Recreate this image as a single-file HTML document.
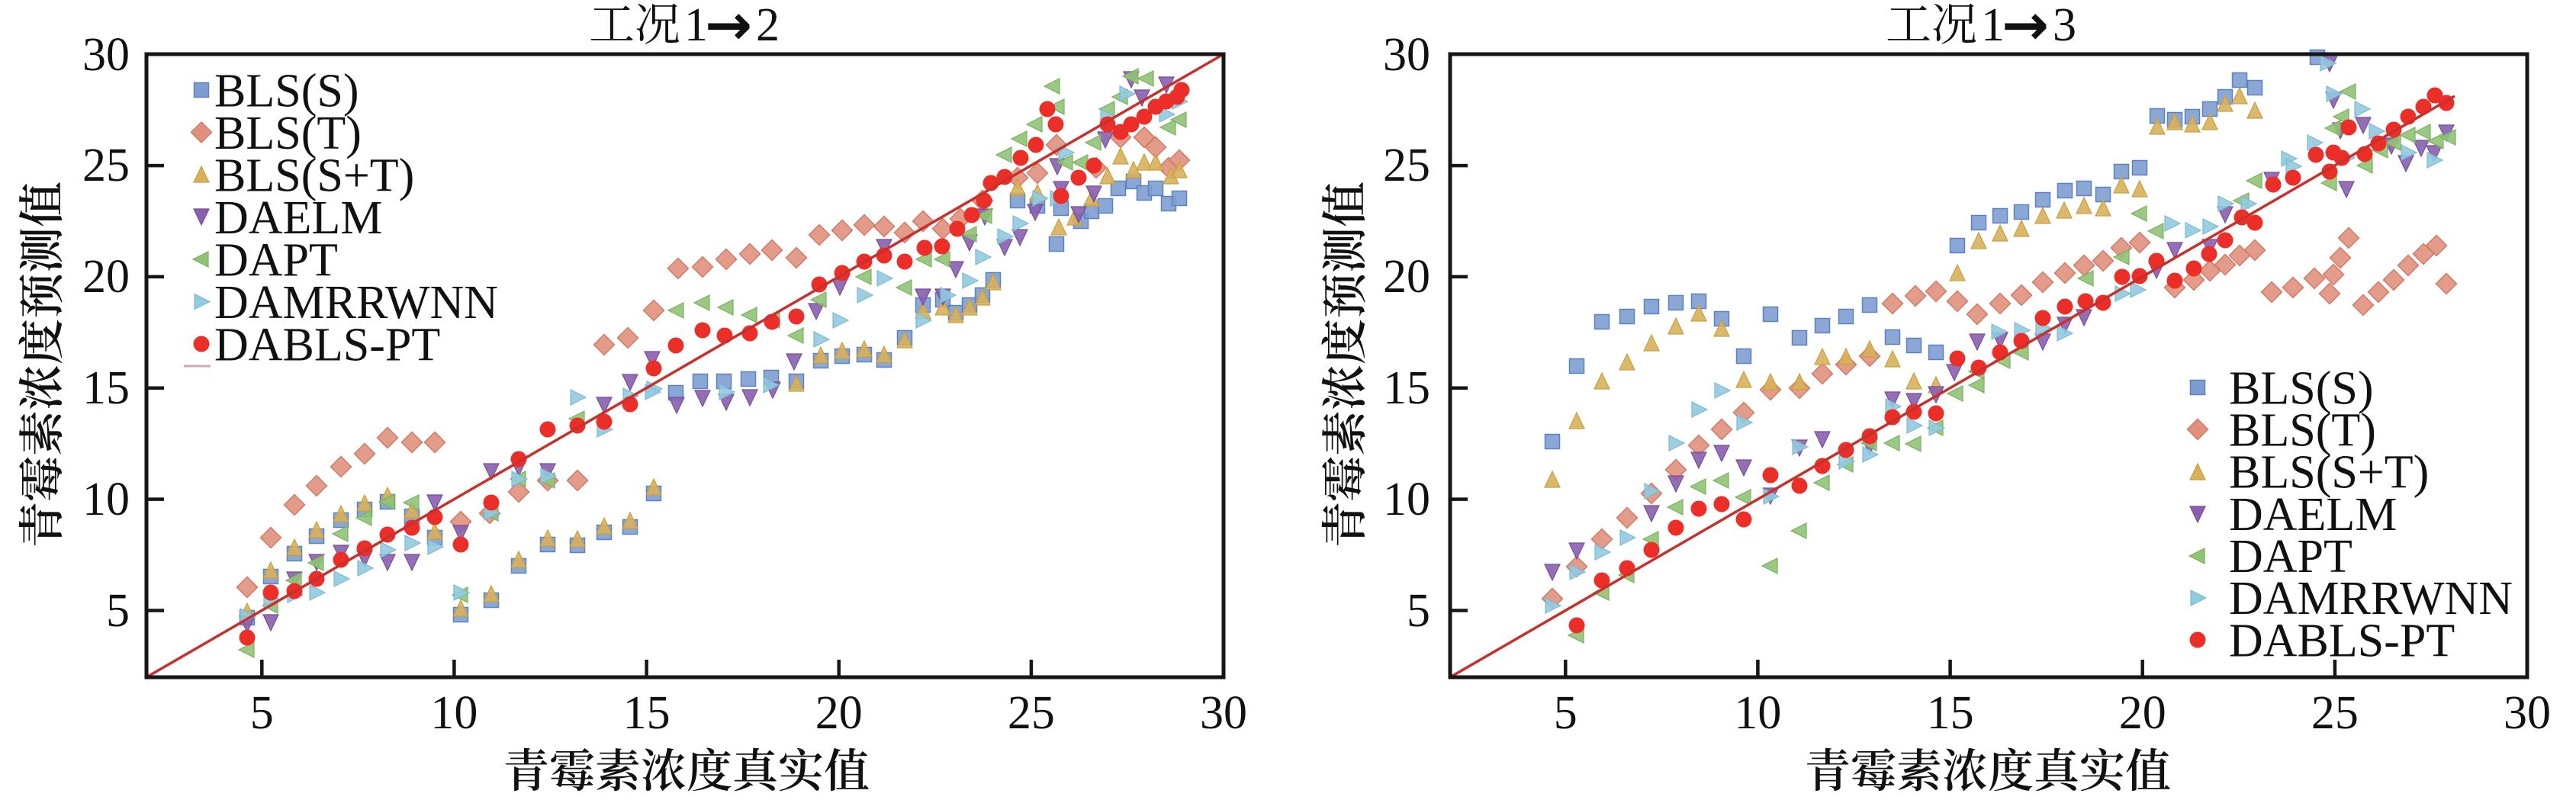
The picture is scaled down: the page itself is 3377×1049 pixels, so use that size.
<!DOCTYPE html>
<html><head><meta charset="utf-8"><style>
html,body{margin:0;padding:0;background:#fff;}
svg{display:block;}
.num{font-family:"Liberation Serif",serif;font-size:62px;fill:#111;}
.leg{font-family:"Liberation Serif",serif;font-size:62px;fill:#111;}
.cjk{font-family:"Liberation Serif","Noto Serif CJK SC",serif;fill:#111;}
.arr{font-family:"DejaVu Sans",sans-serif;font-weight:bold;fill:#111;}
</style></head><body>
<svg width="3377" height="1049" viewBox="0 0 3377 1049" xmlns="http://www.w3.org/2000/svg">
<defs>
<rect id="s" x="-9.5" y="-9.5" width="19" height="19"/>
<polygon id="d" points="0,-13.5 13.5,0 0,13.5 -13.5,0"/>
<polygon id="u" points="0,-13 10,8 -10,8"/>
<polygon id="v" points="-10,-9 10,-9 0,12"/>
<polygon id="l" points="-11,0 9,-10 9,10"/>
<polygon id="r" points="11,0 -9,-10 -9,10"/>
<circle id="c" r="10.5"/>
</defs>
<rect width="3377" height="1049" fill="#fff"/>

<!-- ============ LEFT PANEL ============ -->
<g fill="#7d9dd0" stroke="#5b82c2" stroke-width="1.5" fill-opacity="0.9">
<use href="#s" x="324" y="810"/><use href="#s" x="355" y="756"/><use href="#s" x="386" y="726"/><use href="#s" x="415" y="703"/><use href="#s" x="447" y="682"/><use href="#s" x="478" y="668"/><use href="#s" x="508" y="658"/><use href="#s" x="540" y="677"/><use href="#s" x="570" y="705"/><use href="#s" x="604" y="806"/><use href="#s" x="644" y="787"/><use href="#s" x="680" y="742"/><use href="#s" x="718" y="714"/><use href="#s" x="757" y="715"/><use href="#s" x="792" y="698"/><use href="#s" x="826" y="691"/><use href="#s" x="857" y="647"/>
<use href="#s" x="886" y="515"/><use href="#s" x="918" y="500"/><use href="#s" x="949" y="500"/><use href="#s" x="981" y="497"/><use href="#s" x="1011" y="495"/><use href="#s" x="1044" y="500"/><use href="#s" x="1076" y="473"/><use href="#s" x="1104" y="467"/><use href="#s" x="1133" y="465"/><use href="#s" x="1159" y="472"/><use href="#s" x="1186" y="443"/><use href="#s" x="1210" y="400"/><use href="#s" x="1236" y="393"/><use href="#s" x="1253" y="410"/><use href="#s" x="1271" y="400"/><use href="#s" x="1288" y="387"/><use href="#s" x="1302" y="367"/>
<use href="#s" x="1334" y="263"/><use href="#s" x="1360" y="270"/><use href="#s" x="1385" y="320"/><use href="#s" x="1391" y="273"/><use href="#s" x="1417" y="290"/><use href="#s" x="1431" y="277"/><use href="#s" x="1449" y="270"/><use href="#s" x="1466" y="247"/><use href="#s" x="1486" y="238"/><use href="#s" x="1500" y="253"/><use href="#s" x="1515" y="247"/><use href="#s" x="1532" y="267"/><use href="#s" x="1546" y="260"/>
</g>
<g fill="#e0907d" stroke="#d27a66" stroke-width="1.5" fill-opacity="0.9">
<use href="#d" x="324" y="770"/><use href="#d" x="355" y="705"/><use href="#d" x="386" y="662"/><use href="#d" x="415" y="637"/><use href="#d" x="447" y="612"/><use href="#d" x="478" y="595"/><use href="#d" x="508" y="574"/><use href="#d" x="540" y="580"/><use href="#d" x="570" y="580"/><use href="#d" x="604" y="684"/><use href="#d" x="642" y="673"/><use href="#d" x="680" y="645"/><use href="#d" x="718" y="630"/><use href="#d" x="757" y="630"/><use href="#d" x="792" y="452"/><use href="#d" x="823" y="443"/><use href="#d" x="857" y="407"/><use href="#d" x="889" y="352"/><use href="#d" x="921" y="350"/><use href="#d" x="952" y="340"/><use href="#d" x="983" y="333"/><use href="#d" x="1012" y="328"/><use href="#d" x="1044" y="338"/><use href="#d" x="1074" y="308"/><use href="#d" x="1104" y="302"/><use href="#d" x="1133" y="295"/><use href="#d" x="1159" y="297"/><use href="#d" x="1186" y="305"/><use href="#d" x="1210" y="290"/><use href="#d" x="1236" y="300"/><use href="#d" x="1259" y="287"/><use href="#d" x="1288" y="263"/><use href="#d" x="1334" y="233"/><use href="#d" x="1360" y="227"/><use href="#d" x="1385" y="190"/><use href="#d" x="1437" y="220"/><use href="#d" x="1469" y="180"/><use href="#d" x="1500" y="180"/><use href="#d" x="1515" y="193"/><use href="#d" x="1532" y="220"/><use href="#d" x="1546" y="210"/>
</g>
<g fill="#d8b05a" stroke="#c9a040" stroke-width="1.2" fill-opacity="0.9">
<use href="#u" x="324" y="804"/><use href="#u" x="355" y="750"/><use href="#u" x="386" y="720"/><use href="#u" x="415" y="697"/><use href="#u" x="447" y="676"/><use href="#u" x="478" y="662"/><use href="#u" x="508" y="652"/><use href="#u" x="540" y="671"/><use href="#u" x="570" y="699"/><use href="#u" x="604" y="800"/><use href="#u" x="644" y="781"/><use href="#u" x="680" y="736"/><use href="#u" x="718" y="708"/><use href="#u" x="757" y="709"/><use href="#u" x="792" y="692"/><use href="#u" x="826" y="685"/><use href="#u" x="857" y="641"/>
<use href="#u" x="1044" y="505"/><use href="#u" x="1076" y="468"/><use href="#u" x="1104" y="462"/><use href="#u" x="1133" y="460"/><use href="#u" x="1159" y="467"/><use href="#u" x="1186" y="448"/><use href="#u" x="1210" y="410"/><use href="#u" x="1236" y="405"/><use href="#u" x="1253" y="415"/><use href="#u" x="1271" y="405"/><use href="#u" x="1288" y="392"/><use href="#u" x="1302" y="372"/>
<use href="#u" x="1334" y="248"/><use href="#u" x="1360" y="255"/><use href="#u" x="1388" y="300"/><use href="#u" x="1409" y="287"/><use href="#u" x="1431" y="262"/><use href="#u" x="1452" y="233"/><use href="#u" x="1469" y="207"/><use href="#u" x="1486" y="225"/><use href="#u" x="1500" y="215"/><use href="#u" x="1515" y="215"/><use href="#u" x="1535" y="233"/><use href="#u" x="1546" y="225"/>
</g>
<g fill="#8a5fae" stroke="#774d9c" stroke-width="1.2" fill-opacity="0.9">
<use href="#v" x="324" y="817"/><use href="#v" x="355" y="815"/><use href="#v" x="386" y="759"/><use href="#v" x="415" y="736"/><use href="#v" x="447" y="724"/><use href="#v" x="478" y="731"/><use href="#v" x="508" y="736"/><use href="#v" x="540" y="736"/><use href="#v" x="570" y="658"/><use href="#v" x="604" y="698"/><use href="#v" x="644" y="617"/><use href="#v" x="680" y="612"/><use href="#v" x="718" y="617"/><use href="#v" x="792" y="530"/><use href="#v" x="826" y="500"/><use href="#v" x="855" y="470"/><use href="#v" x="887" y="530"/><use href="#v" x="921" y="521"/><use href="#v" x="952" y="526"/><use href="#v" x="983" y="520"/><use href="#v" x="1013" y="510"/><use href="#v" x="1041" y="473"/><use href="#v" x="1070" y="407"/><use href="#v" x="1101" y="375"/><use href="#v" x="1159" y="323"/><use href="#v" x="1210" y="388"/><use href="#v" x="1236" y="388"/><use href="#v" x="1253" y="352"/><use href="#v" x="1271" y="317"/><use href="#v" x="1291" y="283"/><use href="#v" x="1317" y="323"/><use href="#v" x="1337" y="310"/><use href="#v" x="1357" y="277"/><use href="#v" x="1386" y="217"/><use href="#v" x="1391" y="247"/><use href="#v" x="1414" y="280"/><use href="#v" x="1434" y="253"/><use href="#v" x="1449" y="182"/><use href="#v" x="1483" y="103"/><use href="#v" x="1497" y="127"/><use href="#v" x="1529" y="110"/>
</g>
<g fill="#90c377" stroke="#78b25c" stroke-width="1.2" fill-opacity="0.9">
<use href="#l" x="324" y="852"/><use href="#l" x="355" y="794"/><use href="#l" x="386" y="761"/><use href="#l" x="415" y="738"/><use href="#l" x="447" y="700"/><use href="#l" x="478" y="679"/><use href="#l" x="508" y="658"/><use href="#l" x="540" y="659"/><use href="#l" x="604" y="780"/><use href="#l" x="644" y="673"/><use href="#l" x="680" y="628"/><use href="#l" x="718" y="630"/><use href="#l" x="757" y="549"/><use href="#l" x="887" y="407"/><use href="#l" x="921" y="397"/><use href="#l" x="952" y="403"/><use href="#l" x="983" y="413"/><use href="#l" x="1013" y="420"/><use href="#l" x="1044" y="440"/><use href="#l" x="1074" y="393"/><use href="#l" x="1133" y="363"/><use href="#l" x="1186" y="377"/><use href="#l" x="1212" y="340"/><use href="#l" x="1236" y="340"/><use href="#l" x="1271" y="307"/><use href="#l" x="1291" y="283"/><use href="#l" x="1317" y="203"/><use href="#l" x="1337" y="182"/><use href="#l" x="1357" y="163"/><use href="#l" x="1380" y="113"/><use href="#l" x="1386" y="140"/><use href="#l" x="1397" y="213"/><use href="#l" x="1417" y="213"/><use href="#l" x="1434" y="187"/><use href="#l" x="1452" y="143"/><use href="#l" x="1469" y="127"/><use href="#l" x="1483" y="100"/><use href="#l" x="1503" y="103"/><use href="#l" x="1532" y="167"/><use href="#l" x="1546" y="157"/>
</g>
<g fill="#92cadf" stroke="#7bbbd4" stroke-width="1.2" fill-opacity="0.9">
<use href="#r" x="324" y="808"/><use href="#r" x="355" y="787"/><use href="#r" x="386" y="780"/><use href="#r" x="415" y="777"/><use href="#r" x="447" y="759"/><use href="#r" x="478" y="745"/><use href="#r" x="508" y="721"/><use href="#r" x="540" y="712"/><use href="#r" x="570" y="717"/><use href="#r" x="604" y="777"/><use href="#r" x="644" y="672"/><use href="#r" x="680" y="628"/><use href="#r" x="718" y="624"/><use href="#r" x="757" y="521"/><use href="#r" x="792" y="563"/><use href="#r" x="826" y="519"/><use href="#r" x="857" y="510"/><use href="#r" x="855" y="514"/><use href="#r" x="952" y="514"/><use href="#r" x="1010" y="505"/><use href="#r" x="1076" y="445"/><use href="#r" x="1101" y="420"/><use href="#r" x="1133" y="387"/><use href="#r" x="1159" y="365"/><use href="#r" x="1210" y="420"/><use href="#r" x="1242" y="387"/><use href="#r" x="1271" y="368"/><use href="#r" x="1288" y="337"/><use href="#r" x="1317" y="310"/><use href="#r" x="1337" y="293"/><use href="#r" x="1363" y="260"/><use href="#r" x="1386" y="260"/><use href="#r" x="1397" y="200"/><use href="#r" x="1452" y="153"/><use href="#r" x="1477" y="123"/><use href="#r" x="1529" y="150"/><use href="#r" x="1546" y="133"/>
</g>
<g fill="#ec2e28">
<use href="#c" x="324" y="836"/><use href="#c" x="355" y="777"/><use href="#c" x="386" y="775"/><use href="#c" x="415" y="759"/><use href="#c" x="447" y="734"/><use href="#c" x="478" y="719"/><use href="#c" x="508" y="701"/><use href="#c" x="540" y="692"/><use href="#c" x="570" y="678"/><use href="#c" x="604" y="714"/><use href="#c" x="644" y="659"/><use href="#c" x="680" y="602"/><use href="#c" x="718" y="563"/><use href="#c" x="757" y="558"/><use href="#c" x="792" y="553"/><use href="#c" x="826" y="530"/><use href="#c" x="857" y="483"/><use href="#c" x="886" y="453"/><use href="#c" x="921" y="433"/><use href="#c" x="950" y="440"/><use href="#c" x="983" y="437"/><use href="#c" x="1012" y="422"/><use href="#c" x="1044" y="415"/><use href="#c" x="1074" y="373"/><use href="#c" x="1104" y="358"/><use href="#c" x="1133" y="343"/><use href="#c" x="1159" y="335"/><use href="#c" x="1186" y="343"/><use href="#c" x="1212" y="325"/><use href="#c" x="1235" y="323"/><use href="#c" x="1255" y="300"/><use href="#c" x="1274" y="282"/><use href="#c" x="1290" y="263"/><use href="#c" x="1299" y="240"/><use href="#c" x="1317" y="232"/><use href="#c" x="1338" y="207"/><use href="#c" x="1358" y="190"/><use href="#c" x="1373" y="143"/><use href="#c" x="1384" y="163"/><use href="#c" x="1391" y="257"/><use href="#c" x="1414" y="233"/><use href="#c" x="1434" y="217"/><use href="#c" x="1452" y="163"/><use href="#c" x="1469" y="173"/><use href="#c" x="1483" y="163"/><use href="#c" x="1500" y="153"/><use href="#c" x="1515" y="140"/><use href="#c" x="1529" y="133"/><use href="#c" x="1543" y="127"/><use href="#c" x="1549" y="118"/>
</g>
<line x1="192" y1="888" x2="1604" y2="71" stroke="#c8302c" stroke-width="3.5"/>

<!-- axes left -->
<rect x="192" y="71" width="1412" height="817" fill="none" stroke="#161616" stroke-width="5"/>
<g stroke="#161616" stroke-width="4.5">
<line x1="343.3" y1="888" x2="343.3" y2="865"/><line x1="595.4" y1="888" x2="595.4" y2="865"/><line x1="847.6" y1="888" x2="847.6" y2="865"/><line x1="1099.7" y1="888" x2="1099.7" y2="865"/><line x1="1351.9" y1="888" x2="1351.9" y2="865"/>
<line x1="192" y1="800.5" x2="215" y2="800.5"/><line x1="192" y1="654.6" x2="215" y2="654.6"/><line x1="192" y1="508.8" x2="215" y2="508.8"/><line x1="192" y1="362.9" x2="215" y2="362.9"/><line x1="192" y1="217.1" x2="215" y2="217.1"/>
</g>
<g class="num" text-anchor="end">
<text x="170" y="821">5</text><text x="170" y="675">10</text><text x="170" y="529">15</text><text x="170" y="383">20</text><text x="170" y="237">25</text><text x="170" y="92">30</text>
</g>
<g class="num" text-anchor="middle">
<text x="343.3" y="955">5</text><text x="595.4" y="955">10</text><text x="847.6" y="955">15</text><text x="1099.7" y="955">20</text><text x="1351.9" y="955">25</text><text x="1604" y="955">30</text>
</g>
<text class="cjk" x="772" y="53" font-size="60">工况</text>
<text class="num" x="897" y="53" font-size="54">1</text>
<text class="arr" x="924" y="58" font-size="74">→</text>
<text class="num" x="991" y="53" font-size="54">2</text>
<text class="cjk" x="900" y="1032" font-size="60" font-weight="600" text-anchor="middle">青霉素浓度真实值</text>
<text class="cjk" transform="translate(76,478) rotate(-90)" font-size="60" font-weight="600" text-anchor="middle">青霉素浓度预测值</text>

<!-- legend left -->
<g>
<use href="#s" x="264" y="118" fill="#7d9dd0" stroke="#5b82c2" stroke-width="1.5"/>
<use href="#d" x="264" y="173.5" fill="#e0907d" stroke="#d27a66" stroke-width="1.5"/>
<use href="#u" x="264" y="231" fill="#d8b05a" stroke="#c9a040" stroke-width="1.2"/>
<use href="#v" x="264" y="283" fill="#8a5fae" stroke="#774d9c" stroke-width="1.2"/>
<use href="#l" x="264" y="340" fill="#90c377" stroke="#78b25c" stroke-width="1.2"/>
<use href="#r" x="264" y="395.5" fill="#92cadf" stroke="#7bbbd4" stroke-width="1.2"/>
<use href="#c" x="264" y="451" fill="#ec2e28"/>
<line x1="241" y1="480" x2="276" y2="480" stroke="#d9a5ad" stroke-width="3"/>
</g>
<g class="leg">
<text x="281" y="139.5">BLS(S)</text><text x="281" y="195">BLS(T)</text><text x="281" y="250.5">BLS(S+T)</text><text x="281" y="306">DAELM</text><text x="281" y="361.5">DAPT</text><text x="281" y="417">DAMRRWNN</text><text x="281" y="472.5">DABLS-PT</text>
</g>

<!-- ============ RIGHT PANEL ============ -->
<g fill="#7d9dd0" stroke="#5b82c2" stroke-width="1.5" fill-opacity="0.9">
<use href="#s" x="2035" y="579"/><use href="#s" x="2067" y="480"/><use href="#s" x="2100" y="422"/><use href="#s" x="2133" y="415"/><use href="#s" x="2165" y="402"/><use href="#s" x="2197" y="397"/><use href="#s" x="2227" y="395"/><use href="#s" x="2257" y="418"/><use href="#s" x="2286" y="467"/><use href="#s" x="2321" y="412"/><use href="#s" x="2359" y="443"/><use href="#s" x="2389" y="427"/><use href="#s" x="2420" y="415"/><use href="#s" x="2451" y="400"/><use href="#s" x="2481" y="442"/><use href="#s" x="2509" y="453"/><use href="#s" x="2538" y="462"/><use href="#s" x="2566" y="322"/><use href="#s" x="2594" y="292"/><use href="#s" x="2622" y="283"/><use href="#s" x="2650" y="278"/><use href="#s" x="2678" y="262"/><use href="#s" x="2707" y="250"/><use href="#s" x="2732" y="247"/><use href="#s" x="2757" y="255"/><use href="#s" x="2781" y="225"/><use href="#s" x="2805" y="220"/><use href="#s" x="2828" y="152"/><use href="#s" x="2851" y="157"/><use href="#s" x="2874" y="153"/><use href="#s" x="2897" y="143"/><use href="#s" x="2917" y="127"/><use href="#s" x="2936" y="105"/><use href="#s" x="2956" y="115"/><use href="#s" x="3038" y="75"/>
</g>
<g fill="#e0907d" stroke="#d27a66" stroke-width="1.5" fill-opacity="0.9">
<use href="#d" x="2035" y="785"/><use href="#d" x="2067" y="743"/><use href="#d" x="2100" y="707"/><use href="#d" x="2133" y="679"/><use href="#d" x="2165" y="647"/><use href="#d" x="2197" y="616"/><use href="#d" x="2227" y="584"/><use href="#d" x="2257" y="563"/><use href="#d" x="2286" y="541"/><use href="#d" x="2321" y="511"/><use href="#d" x="2359" y="509"/><use href="#d" x="2389" y="490"/><use href="#d" x="2420" y="478"/><use href="#d" x="2451" y="467"/><use href="#d" x="2481" y="398"/><use href="#d" x="2511" y="388"/><use href="#d" x="2538" y="382"/><use href="#d" x="2566" y="395"/><use href="#d" x="2592" y="412"/><use href="#d" x="2622" y="398"/><use href="#d" x="2650" y="387"/><use href="#d" x="2678" y="370"/><use href="#d" x="2707" y="358"/><use href="#d" x="2732" y="348"/><use href="#d" x="2757" y="342"/><use href="#d" x="2781" y="325"/><use href="#d" x="2805" y="318"/><use href="#d" x="2851" y="377"/><use href="#d" x="2876" y="367"/><use href="#d" x="2897" y="355"/><use href="#d" x="2917" y="347"/><use href="#d" x="2936" y="335"/><use href="#d" x="2956" y="328"/><use href="#d" x="2978" y="383"/><use href="#d" x="3006" y="377"/><use href="#d" x="3034" y="365"/><use href="#d" x="3059" y="360"/><use href="#d" x="3054" y="385"/><use href="#d" x="3068" y="338"/><use href="#d" x="3079" y="312"/><use href="#d" x="3098" y="400"/><use href="#d" x="3118" y="383"/><use href="#d" x="3138" y="367"/><use href="#d" x="3157" y="348"/><use href="#d" x="3177" y="333"/><use href="#d" x="3194" y="322"/><use href="#d" x="3207" y="372"/>
</g>
<g fill="#d8b05a" stroke="#c9a040" stroke-width="1.2" fill-opacity="0.9">
<use href="#u" x="2035" y="631"/><use href="#u" x="2067" y="554"/><use href="#u" x="2100" y="502"/><use href="#u" x="2133" y="477"/><use href="#u" x="2165" y="452"/><use href="#u" x="2197" y="430"/><use href="#u" x="2227" y="413"/><use href="#u" x="2257" y="433"/><use href="#u" x="2286" y="500"/><use href="#u" x="2321" y="503"/><use href="#u" x="2359" y="503"/><use href="#u" x="2389" y="470"/><use href="#u" x="2420" y="470"/><use href="#u" x="2451" y="460"/><use href="#u" x="2481" y="473"/><use href="#u" x="2509" y="502"/><use href="#u" x="2538" y="507"/><use href="#u" x="2566" y="360"/><use href="#u" x="2594" y="318"/><use href="#u" x="2622" y="308"/><use href="#u" x="2650" y="302"/><use href="#u" x="2678" y="285"/><use href="#u" x="2706" y="278"/><use href="#u" x="2732" y="272"/><use href="#u" x="2757" y="275"/><use href="#u" x="2781" y="245"/><use href="#u" x="2805" y="250"/><use href="#u" x="2828" y="168"/><use href="#u" x="2851" y="162"/><use href="#u" x="2874" y="165"/><use href="#u" x="2897" y="162"/><use href="#u" x="2917" y="138"/><use href="#u" x="2936" y="128"/><use href="#u" x="2956" y="147"/>
</g>
<g fill="#8a5fae" stroke="#774d9c" stroke-width="1.2" fill-opacity="0.9">
<use href="#v" x="2035" y="749"/><use href="#v" x="2067" y="721"/><use href="#v" x="2165" y="672"/><use href="#v" x="2197" y="633"/><use href="#v" x="2227" y="602"/><use href="#v" x="2257" y="593"/><use href="#v" x="2286" y="612"/><use href="#v" x="2321" y="649"/><use href="#v" x="2359" y="586"/><use href="#v" x="2389" y="575"/><use href="#v" x="2451" y="584"/><use href="#v" x="2481" y="523"/><use href="#v" x="2509" y="525"/><use href="#v" x="2538" y="516"/><use href="#v" x="2562" y="487"/><use href="#v" x="2592" y="447"/><use href="#v" x="2622" y="445"/><use href="#v" x="2678" y="447"/><use href="#v" x="2707" y="425"/><use href="#v" x="2732" y="415"/><use href="#v" x="2827" y="353"/><use href="#v" x="2851" y="327"/><use href="#v" x="2897" y="323"/><use href="#v" x="2917" y="280"/><use href="#v" x="2978" y="235"/><use href="#v" x="3059" y="130"/><use href="#v" x="3068" y="170"/><use href="#v" x="3076" y="247"/><use href="#v" x="3098" y="163"/><use href="#v" x="3135" y="190"/><use href="#v" x="3154" y="213"/><use href="#v" x="3174" y="193"/><use href="#v" x="3191" y="200"/><use href="#v" x="3207" y="173"/><use href="#v" x="3054" y="82"/>
</g>
<g fill="#90c377" stroke="#78b25c" stroke-width="1.2" fill-opacity="0.9">
<use href="#l" x="2067" y="833"/><use href="#l" x="2100" y="777"/><use href="#l" x="2133" y="754"/><use href="#l" x="2165" y="707"/><use href="#l" x="2197" y="665"/><use href="#l" x="2227" y="638"/><use href="#l" x="2257" y="630"/><use href="#l" x="2286" y="652"/><use href="#l" x="2321" y="742"/><use href="#l" x="2359" y="696"/><use href="#l" x="2389" y="633"/><use href="#l" x="2420" y="609"/><use href="#l" x="2451" y="581"/><use href="#l" x="2481" y="581"/><use href="#l" x="2509" y="582"/><use href="#l" x="2538" y="561"/><use href="#l" x="2564" y="516"/><use href="#l" x="2592" y="505"/><use href="#l" x="2592" y="487"/><use href="#l" x="2626" y="473"/><use href="#l" x="2650" y="462"/><use href="#l" x="2735" y="365"/><use href="#l" x="2782" y="337"/><use href="#l" x="2805" y="280"/><use href="#l" x="2827" y="303"/><use href="#l" x="2939" y="263"/><use href="#l" x="2956" y="237"/><use href="#l" x="3054" y="240"/><use href="#l" x="3059" y="168"/><use href="#l" x="3079" y="120"/><use href="#l" x="3070" y="153"/><use href="#l" x="3101" y="217"/><use href="#l" x="3121" y="197"/><use href="#l" x="3138" y="187"/><use href="#l" x="3157" y="177"/><use href="#l" x="3177" y="173"/><use href="#l" x="3194" y="185"/><use href="#l" x="3210" y="180"/>
</g>
<g fill="#92cadf" stroke="#7bbbd4" stroke-width="1.2" fill-opacity="0.9">
<use href="#r" x="2035" y="794"/><use href="#r" x="2067" y="750"/><use href="#r" x="2100" y="724"/><use href="#r" x="2133" y="705"/><use href="#r" x="2165" y="644"/><use href="#r" x="2197" y="581"/><use href="#r" x="2227" y="537"/><use href="#r" x="2257" y="512"/><use href="#r" x="2286" y="554"/><use href="#r" x="2321" y="651"/><use href="#r" x="2359" y="586"/><use href="#r" x="2420" y="605"/><use href="#r" x="2451" y="596"/><use href="#r" x="2481" y="533"/><use href="#r" x="2509" y="558"/><use href="#r" x="2538" y="561"/><use href="#r" x="2620" y="435"/><use href="#r" x="2650" y="433"/><use href="#r" x="2678" y="430"/><use href="#r" x="2706" y="437"/><use href="#r" x="2782" y="385"/><use href="#r" x="2802" y="380"/><use href="#r" x="2847" y="293"/><use href="#r" x="2874" y="302"/><use href="#r" x="2897" y="297"/><use href="#r" x="2917" y="267"/><use href="#r" x="2947" y="267"/><use href="#r" x="3000" y="208"/><use href="#r" x="3006" y="218"/><use href="#r" x="3034" y="187"/><use href="#r" x="3059" y="123"/><use href="#r" x="3076" y="207"/><use href="#r" x="3096" y="143"/><use href="#r" x="3115" y="172"/><use href="#r" x="3157" y="200"/><use href="#r" x="3191" y="210"/><use href="#r" x="3051" y="83"/>
</g>
<g fill="#ec2e28">
<use href="#c" x="2067" y="820"/><use href="#c" x="2100" y="761"/><use href="#c" x="2133" y="745"/><use href="#c" x="2165" y="721"/><use href="#c" x="2197" y="692"/><use href="#c" x="2227" y="667"/><use href="#c" x="2257" y="661"/><use href="#c" x="2286" y="681"/><use href="#c" x="2321" y="623"/><use href="#c" x="2359" y="637"/><use href="#c" x="2389" y="611"/><use href="#c" x="2420" y="590"/><use href="#c" x="2451" y="572"/><use href="#c" x="2481" y="547"/><use href="#c" x="2509" y="540"/><use href="#c" x="2538" y="542"/><use href="#c" x="2566" y="470"/><use href="#c" x="2594" y="482"/><use href="#c" x="2622" y="462"/><use href="#c" x="2650" y="447"/><use href="#c" x="2678" y="417"/><use href="#c" x="2707" y="402"/><use href="#c" x="2734" y="395"/><use href="#c" x="2757" y="397"/><use href="#c" x="2782" y="363"/><use href="#c" x="2805" y="362"/><use href="#c" x="2827" y="342"/><use href="#c" x="2851" y="368"/><use href="#c" x="2876" y="352"/><use href="#c" x="2896" y="333"/><use href="#c" x="2917" y="315"/><use href="#c" x="2939" y="285"/><use href="#c" x="2956" y="292"/><use href="#c" x="2980" y="242"/><use href="#c" x="3006" y="233"/><use href="#c" x="3036" y="203"/><use href="#c" x="3054" y="225"/><use href="#c" x="3059" y="200"/><use href="#c" x="3079" y="167"/><use href="#c" x="3070" y="207"/><use href="#c" x="3100" y="202"/><use href="#c" x="3118" y="188"/><use href="#c" x="3138" y="170"/><use href="#c" x="3157" y="153"/><use href="#c" x="3177" y="140"/><use href="#c" x="3192" y="125"/><use href="#c" x="3207" y="135"/>
</g>
<line x1="1901" y1="888" x2="3218" y2="126" stroke="#c8302c" stroke-width="3.5"/>

<!-- axes right -->
<rect x="1901" y="71" width="1412" height="817" fill="none" stroke="#161616" stroke-width="5"/>
<g stroke="#161616" stroke-width="4.5">
<line x1="2052.3" y1="888" x2="2052.3" y2="865"/><line x1="2304.4" y1="888" x2="2304.4" y2="865"/><line x1="2556.6" y1="888" x2="2556.6" y2="865"/><line x1="2808.7" y1="888" x2="2808.7" y2="865"/><line x1="3060.9" y1="888" x2="3060.9" y2="865"/>
<line x1="1901" y1="800.5" x2="1924" y2="800.5"/><line x1="1901" y1="654.6" x2="1924" y2="654.6"/><line x1="1901" y1="508.8" x2="1924" y2="508.8"/><line x1="1901" y1="362.9" x2="1924" y2="362.9"/><line x1="1901" y1="217.1" x2="1924" y2="217.1"/>
</g>
<g class="num" text-anchor="end">
<text x="1875" y="821">5</text><text x="1875" y="675">10</text><text x="1875" y="529">15</text><text x="1875" y="383">20</text><text x="1875" y="237">25</text><text x="1875" y="92">30</text>
</g>
<g class="num" text-anchor="middle">
<text x="2052.3" y="955">5</text><text x="2304.4" y="955">10</text><text x="2556.6" y="955">15</text><text x="2808.7" y="955">20</text><text x="3060.9" y="955">25</text><text x="3313" y="955">30</text>
</g>
<text class="cjk" x="2472" y="53" font-size="60">工况</text>
<text class="num" x="2597" y="53" font-size="54">1</text>
<text class="arr" x="2624" y="58" font-size="74">→</text>
<text class="num" x="2691" y="53" font-size="54">3</text>
<text class="cjk" x="2606" y="1032" font-size="60" font-weight="600" text-anchor="middle">青霉素浓度真实值</text>
<text class="cjk" transform="translate(1784,478) rotate(-90)" font-size="60" font-weight="600" text-anchor="middle">青霉素浓度预测值</text>

<!-- legend right -->
<g>
<use href="#s" x="2881" y="508" fill="#7d9dd0" stroke="#5b82c2" stroke-width="1.5"/>
<use href="#d" x="2881" y="563" fill="#e0907d" stroke="#d27a66" stroke-width="1.5"/>
<use href="#u" x="2881" y="621" fill="#d8b05a" stroke="#c9a040" stroke-width="1.2"/>
<use href="#v" x="2881" y="673" fill="#8a5fae" stroke="#774d9c" stroke-width="1.2"/>
<use href="#l" x="2881" y="729" fill="#90c377" stroke="#78b25c" stroke-width="1.2"/>
<use href="#r" x="2881" y="784" fill="#92cadf" stroke="#7bbbd4" stroke-width="1.2"/>
<use href="#c" x="2881" y="839" fill="#ec2e28"/>
</g>
<g class="leg">
<text x="2922" y="529.5">BLS(S)</text><text x="2922" y="584.5">BLS(T)</text><text x="2922" y="639.5">BLS(S+T)</text><text x="2922" y="695">DAELM</text><text x="2922" y="750">DAPT</text><text x="2922" y="805">DAMRRWNN</text><text x="2922" y="860.5">DABLS-PT</text>
</g>
</svg>
</body></html>
